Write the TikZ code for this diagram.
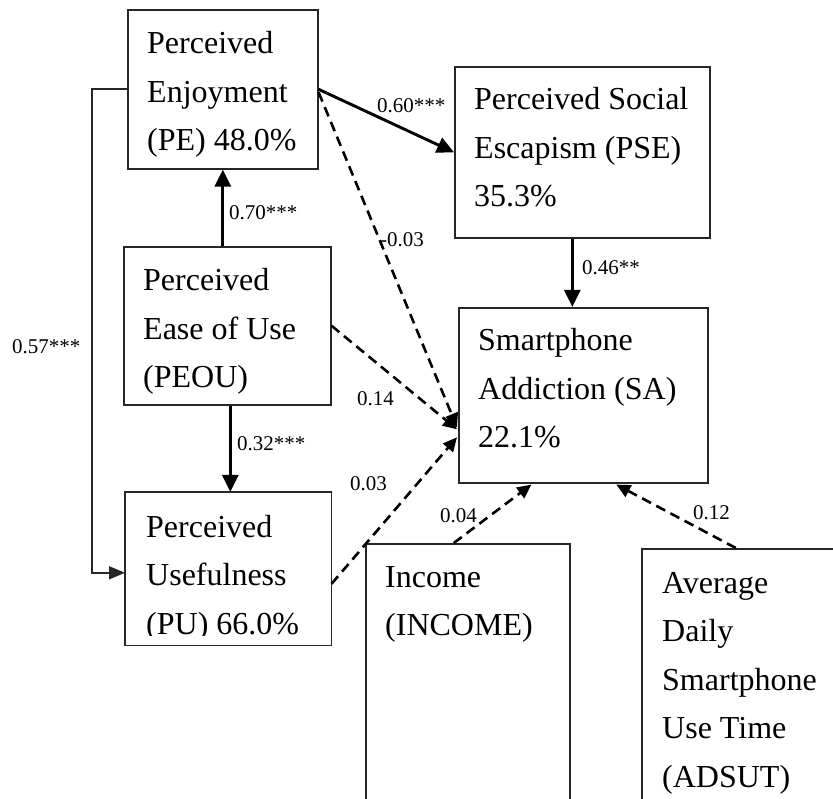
\documentclass[tikz,border=0pt]{standalone}
\usepackage{fontspec}
\setmainfont{Liberation Serif}
\usetikzlibrary{arrows.meta,calc}
\begin{document}
\begin{tikzpicture}[x=1pt,y=-1pt,
  box/.style={draw=black!85, line width=1.6pt, rectangle, inner sep=0pt, anchor=north west},
  txt/.style={font=\fontsize{32pt}{48.5pt}\selectfont, align=left, anchor=base west, inner sep=0pt},
  lbl/.style={font=\fontsize{21pt}{25pt}\selectfont, anchor=base west, inner sep=0pt},
  solidarr/.style={line width=2.9pt, -{Triangle[length=17pt,width=16pt]}},
  dasharr/.style={line width=2.6pt, dash pattern=on 10pt off 6pt, -{Triangle[length=14pt,width=13pt]}},
  thinarr/.style={line width=1.7pt, draw=black!85, -{Triangle[length=16pt,width=13pt]}},
]
\useasboundingbox (0,0) rectangle (833,799);
\fill[white] (0,0) rectangle (833,799);
\clip (0,0) rectangle (833,799);

% boxes
\node[box, minimum width=190pt, minimum height=159pt] (pe) at (127,9) {};
\node[box, minimum width=255pt, minimum height=171pt] (pse) at (454,66) {};
\node[box, minimum width=207pt, minimum height=158pt] (peou) at (123,246) {};
\node[box, draw=none, minimum width=205pt, minimum height=152pt] (pu) at (125,492) {};
\node[box, minimum width=249pt, minimum height=175pt] (sa) at (458,307) {};
\node[box, minimum width=204pt, minimum height=300pt] (inc) at (365,543) {};
\node[box, minimum width=250pt, minimum height=300pt] (ads) at (641,548) {};

% texts (anchor = baseline of the last line)
\node[txt] (pet) at ($(pe.north west)+(20,142)$) {Perceived\\Enjoyment\\(PE) 48.0\%};
\node[txt] (pset) at ($(pse.north west)+(20,141)$) {Perceived Social\\Escapism (PSE)\\35.3\%};
\node[txt] (peout) at ($(peou.north west)+(20,142)$) {Perceived\\Ease of Use\\(PEOU)};
\node[txt] (put) at ($(pu.north west)+(21,142)$) {Perceived\\Usefulness\\(PU) 66.0\%};
\fill[white] ($(pu.south west)+(2,-9.5)$) rectangle ($(pu.south east)+(-2,-2)$);
\draw[draw=black!85, line width=1.6pt] (pu.north west) rectangle (pu.south east);
\node[txt] (sat) at ($(sa.north west)+(20,141)$) {Smartphone\\Addiction (SA)\\22.1\%};
\node[txt] (inct) at ($(inc.north west)+(20,92.5)$) {Income\\(INCOME)};
\node[txt] (adst) at ($(ads.north west)+(21,239)$) {Average\\Daily\\Smartphone\\Use Time\\(ADSUT)};

% labels
\node[lbl] (l1) at (377,113) {0.60***};
\node[lbl] (l2) at (229,220) {0.70***};
\node[lbl] (l3) at (380,247) {-0.03};
\node[lbl] (l4) at (582,275) {0.46**};
\node[lbl] (l5) at (12,354) {0.57***};
\node[lbl] (l6) at (357,406) {0.14};
\node[lbl] (l7) at (237,450) {0.32***};
\node[lbl] (l8) at (350,490) {0.03};
\node[lbl] (l9) at (440,522) {0.04};
\node[lbl] (l10) at (693,519) {0.12};

% coordinates
\coordinate (peouS) at ($(peou.south)+(3,0)$);
\coordinate (pseS) at ($(pse.south)+(-10,0)$);
\coordinate (puW) at ($(pu.west)+(0,4)$);

% connectors
\draw[solidarr] (pe.east) -- (pse.west);
\draw[solidarr] (pe.south |- peou.north) -- (pe.south);
\draw[solidarr] (peouS) -- (peouS |- pu.north);
\draw[solidarr] (pseS) -- (pseS |- sa.north);
\draw[thinarr] (pe.west) -- ++(-35,0) |- (puW);

\draw[dasharr] ($(pe.east)+(0,3)$) -- ($(sa.west)+(-1,32)$);
\draw[dasharr] (peou.east) -- ($(sa.west)+(-1,34)$);
\draw[dasharr] ($(pu.east)+(0,15)$) -- ($(sa.west)+(-1,42)$);
\draw[dasharr] ($(inc.north)+(-14,0)$) -- ($(sa.south)+(-52,1)$);
\draw[dasharr] ($(ads.north)+(-31,0)$) -- ($(sa.south)+(33,1)$);
\end{tikzpicture}
\end{document}
